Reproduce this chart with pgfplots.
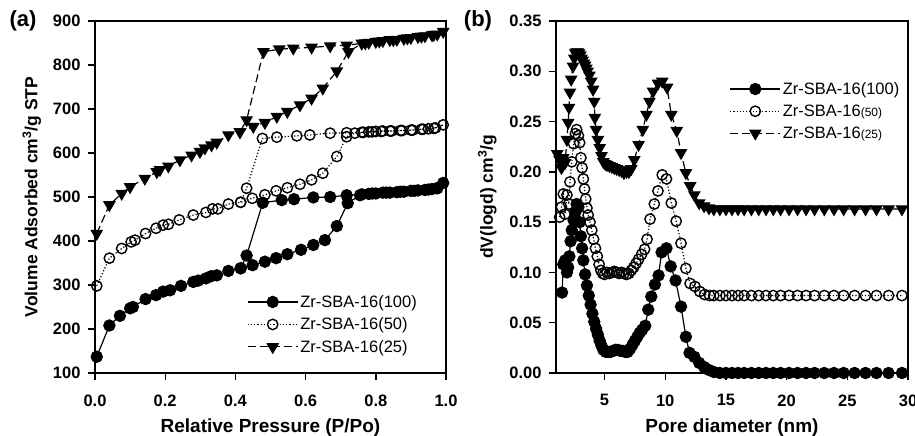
\documentclass[border=0pt]{standalone}
\usepackage{pgfplots}
\pgfplotsset{compat=1.18}
\usepackage{fontspec}
\setmainfont{Liberation Sans}

\pgfplotsset{
  common/.style={
    scale only axis, clip=false,
    axis line style={line width=1.6pt},
    tick pos=left, tick align=outside,
    major tick length=7pt,
    every tick/.style={line width=1.4pt, black},
    tick label style={font=\fontsize{16.5}{18}\selectfont\bfseries},
    xticklabel style={yshift=-11pt},
    yticklabel style={xshift=-4pt},
    /pgf/number format/assume math mode=true,
    xlabel style={font=\fontsize{19}{21}\selectfont\bfseries, at={(axis description cs:0.5,-0.168)}, anchor=base},
    ylabel style={font=\fontsize{17.5}{20}\selectfont\bfseries, anchor=center},
    legend style={draw=none, fill=none, font=\fontsize{16.5}{20}\selectfont, row sep=5pt, inner sep=1pt},
    legend cell align=left,
    legend image code/.code={\draw[mark repeat=2,mark phase=2] plot coordinates {(0pt,0pt)(25pt,0pt)(50pt,0pt)};},
  },
  s100/.style={black, line width=1.2pt, mark=*, mark size=5.6pt, mark options={solid, fill=black}},
  s50/.style={black, line width=1.2pt, dotted, mark=o, mark size=5.2pt, mark options={solid, line width=1.4pt, fill=white}},
  s25/.style={black, line width=1.2pt, dash pattern=on 8pt off 4pt, mark=triangle*, mark size=6.2pt, mark options={solid, rotate=180, fill=black}},
}

\begin{document}
\begin{tikzpicture}
\useasboundingbox (0,0) rectangle (915pt,436pt);

\node[font=\fontsize{22}{24}\selectfont\bfseries] at (23pt,415pt) {(a)};
\node[font=\fontsize{22}{24}\selectfont\bfseries] at (478pt,415pt) {(b)};

\begin{axis}[common,
  at={(95pt,63pt)}, anchor=south west, width=351pt, height=352pt,
  xmin=0, xmax=1, ymin=100, ymax=900,
  xtick={0,0.2,0.4,0.6,0.8,1.0},
  ytick={100,200,300,400,500,600,700,800,900},
  xticklabel style={/pgf/number format/.cd, fixed, fixed zerofill, precision=1},
  xlabel={Relative Pressure (P/Po)},
  ylabel={Volume Adsorbed cm\textsuperscript{3}/g STP},
  ylabel style={at={(axis description cs:-0.18,0.5)}},
  legend style={at={(axis description cs:0.43,0.23)}, anchor=north west},
]
\addplot[s100] coordinates {
(0.005,137)(0.041,208)(0.071,230)(0.100,247)(0.108,250)(0.144,268)(0.174,277)(0.194,285)(0.214,288)
(0.245,298)(0.280,307)(0.294,310)(0.316,315)(0.331,320)(0.347,322)(0.380,332)(0.415,338)(0.449,345)
(0.484,353)(0.516,361)(0.548,370)(0.587,380)(0.622,391)(0.655,402)(0.689,434)(0.720,486)(0.755,504)
(0.780,507)(0.800,508)(0.820,510)(0.840,510)(0.860,511)(0.880,512)(0.900,514)(0.920,515)(0.940,516)
(0.960,518)(0.975,520)(0.992,532)
(0.975,520)(0.950,517)(0.910,514)(0.870,512)(0.830,510)(0.790,508)(0.760,506)(0.717,504)(0.670,500)
(0.622,499)(0.567,495)(0.532,493)(0.478,487)(0.432,367)(0.415,338)
};
\addlegendentry{Zr-SBA-16(100)}
\addplot[s50] coordinates {
(0.005,298)(0.041,361)(0.076,383)(0.103,398)(0.114,402)(0.144,417)(0.174,429)(0.194,436)(0.209,438)
(0.240,448)(0.280,459)(0.316,465)(0.335,473)(0.350,473)(0.380,484)(0.415,488)(0.448,497)(0.484,505)
(0.516,514)(0.548,521)(0.584,529)(0.617,539)(0.649,554)(0.689,592)(0.717,637)(0.740,645)(0.760,647)
(0.780,648)(0.800,649)(0.820,650)(0.840,650)(0.870,651)(0.900,652)(0.930,654)(0.950,655)(0.970,657)
(0.992,664)
(0.965,656)(0.935,654)(0.905,652)(0.875,651)(0.845,650)(0.815,649)(0.790,648)(0.765,647)(0.717,646)
(0.670,645)(0.612,641)(0.575,639)(0.518,636)(0.477,633)(0.432,520)(0.415,488)
};
\addlegendentry{Zr-SBA-16(50)}
\addplot[s25] coordinates {
(0.005,417)(0.041,482)(0.076,508)(0.100,523)(0.142,542)(0.176,557)(0.185,562)(0.209,570)(0.242,584)
(0.275,595)(0.299,603)(0.313,611)(0.332,618)(0.347,624)(0.380,641)(0.413,648)(0.451,660)(0.484,669)
(0.518,683)(0.548,694)(0.584,709)(0.617,724)(0.649,747)(0.689,786)(0.722,830)(0.760,849)(0.780,851)
(0.800,853)(0.820,855)(0.840,857)(0.860,858)(0.880,860)(0.900,862)(0.920,864)(0.940,866)(0.960,868)
(0.975,870)(0.992,876)
(0.965,869)(0.930,865)(0.890,861)(0.850,857)(0.810,854)(0.770,850)(0.717,845)(0.670,843)(0.617,840)
(0.565,838)(0.525,836)(0.480,830)(0.432,675)(0.413,648)
};
\addlegendentry{Zr-SBA-16(25)}
\end{axis}

\begin{axis}[common,
  at={(556pt,63pt)}, anchor=south west, width=352pt, height=352pt,
  xmin=1, xmax=30, ymin=0, ymax=0.35,
  xtick={5,10,15,20,25,30},
  ytick={0,0.05,0.10,0.15,0.20,0.25,0.30,0.35},
  yticklabel style={/pgf/number format/.cd, fixed, fixed zerofill, precision=2},
  xlabel={Pore diameter (nm)},
  ylabel={dV(logd) cm\textsuperscript{3}/g},
  ylabel style={at={(axis description cs:-0.195,0.5)}},
  legend style={at={(axis description cs:0.49,0.835)}, anchor=north west},
]
\addplot[s100] coordinates {
(1.5,0.080)(1.6,0.108)(1.75,0.112)(1.9,0.100)(2.0,0.105)(2.1,0.116)(2.2,0.131)(2.3,0.142)(2.45,0.152)
(2.6,0.160)(2.7,0.168)(2.85,0.165)(2.95,0.150)(3.05,0.136)(3.15,0.124)(3.25,0.112)(3.4,0.098)(3.55,0.087)
(3.7,0.077)(3.85,0.068)(4.0,0.059)(4.15,0.051)(4.3,0.044)(4.45,0.038)(4.6,0.032)(4.75,0.027)(4.9,0.023)
(5.1,0.021)(5.3,0.021)(5.5,0.021)(5.7,0.022)(5.9,0.023)(6.1,0.023)(6.3,0.022)(6.5,0.022)(6.7,0.021)
(6.9,0.021)(7.1,0.024)(7.3,0.028)(7.5,0.032)(7.7,0.036)(7.9,0.040)(8.1,0.043)(8.35,0.047)(8.6,0.063)
(8.85,0.076)(9.15,0.088)(9.45,0.097)(9.7,0.120)(10.1,0.124)(10.45,0.106)(10.85,0.092)(11.3,0.066)
(11.7,0.036)(12.0,0.020)(12.4,0.016)(12.8,0.010)(13.2,0.006)(13.6,0.003)(14.0,0.001)
(14.5,0)(15.0,0)(15.5,0)(16.0,0)(16.5,0)(17.1,0)(17.7,0)(18.3,0)(18.9,0)(19.5,0)(20.2,0)(20.9,0)
(21.6,0)(22.3,0)(23.1,0)(23.9,0)(24.7,0)(25.6,0)(26.5,0)(27.4,0)(28.4,0)(29.5,0)
};
\addlegendentry{Zr-SBA-16(100)}
\addplot[s50] coordinates {
(1.3,0.155)(1.45,0.165)(1.6,0.178)(1.75,0.158)(1.9,0.177)(2.05,0.168)(2.15,0.190)(2.3,0.210)(2.45,0.228)
(2.6,0.238)(2.7,0.242)(2.85,0.236)(2.95,0.229)(3.05,0.214)(3.15,0.204)(3.25,0.193)(3.35,0.183)(3.45,0.173)
(3.55,0.164)(3.65,0.157)(3.8,0.150)(3.95,0.142)(4.1,0.133)(4.25,0.124)(4.4,0.116)(4.55,0.108)(4.7,0.102)
(4.85,0.099)(5.0,0.098)(5.2,0.100)(5.4,0.099)(5.6,0.100)(5.8,0.101)(6.0,0.100)(6.2,0.099)(6.4,0.100)
(6.6,0.099)(6.8,0.098)(7.0,0.099)(7.2,0.102)(7.4,0.105)(7.6,0.109)(7.8,0.113)(8.05,0.118)(8.3,0.123)
(8.5,0.133)(8.75,0.153)(9.1,0.168)(9.4,0.181)(9.75,0.197)(10.1,0.193)(10.5,0.169)(10.9,0.151)(11.3,0.129)
(11.7,0.104)(12.05,0.089)(12.45,0.086)(12.85,0.081)(13.25,0.078)(13.65,0.077)(14.0,0.077)
(14.5,0.077)(15.0,0.077)(15.5,0.077)(16.0,0.077)(16.5,0.077)(17.1,0.077)(17.7,0.077)(18.3,0.077)
(18.9,0.077)(19.5,0.077)(20.2,0.077)(20.9,0.077)(21.6,0.077)(22.3,0.077)(23.1,0.077)(23.9,0.077)
(24.7,0.077)(25.6,0.077)(26.5,0.077)(27.4,0.077)(28.4,0.077)(29.5,0.077)
};
\addlegendentry{Zr-SBA-16{\fontsize{12}{14}\selectfont(50)}}
\addplot[s25] coordinates {
(1.1,0.218)(1.3,0.212)(1.45,0.204)(1.6,0.214)(1.75,0.209)(1.9,0.232)(2.0,0.249)(2.07,0.264)(2.15,0.279)
(2.25,0.292)(2.4,0.305)(2.5,0.313)(2.6,0.318)(2.7,0.319)(2.8,0.319)(2.9,0.318)(3.0,0.316)(3.1,0.313)
(3.2,0.311)(3.3,0.308)(3.4,0.306)(3.5,0.303)(3.6,0.300)(3.75,0.296)(3.9,0.290)(4.05,0.282)(4.15,0.270)
(4.2,0.254)(4.3,0.242)(4.45,0.232)(4.6,0.224)(4.75,0.216)(4.9,0.210)(5.05,0.208)(5.2,0.207)(5.4,0.206)
(5.6,0.205)(5.8,0.204)(6.0,0.203)(6.2,0.202)(6.4,0.201)(6.6,0.199)(6.8,0.200)(7.0,0.200)(7.2,0.203)
(7.45,0.212)(7.8,0.227)(8.15,0.242)(8.45,0.257)(8.7,0.270)(9.0,0.280)(9.4,0.288)(9.75,0.290)(10.15,0.284)
(10.5,0.257)(10.95,0.241)(11.3,0.219)(11.7,0.199)(12.05,0.186)(12.4,0.177)(12.8,0.169)(13.2,0.166)
(13.6,0.164)(14.0,0.163)
(14.5,0.163)(15.0,0.163)(15.5,0.163)(16.0,0.163)(16.5,0.163)(17.1,0.163)(17.7,0.163)(18.3,0.163)
(18.9,0.163)(19.5,0.163)(20.2,0.163)(20.9,0.163)(21.6,0.163)(22.3,0.163)(23.1,0.163)(23.9,0.163)
(24.7,0.163)(25.6,0.163)(26.5,0.163)(27.4,0.163)(28.4,0.163)(29.5,0.163)
};
\addlegendentry{Zr-SBA-16{\fontsize{12}{14}\selectfont(25)}}
\end{axis}
\end{tikzpicture}
\end{document}
